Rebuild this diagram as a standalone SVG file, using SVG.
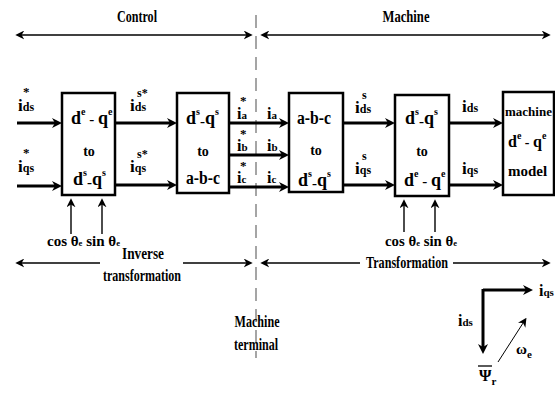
<svg xmlns="http://www.w3.org/2000/svg" width="555" height="395" viewBox="0 0 555 395">
<style>
.t{font-family:'Liberation Serif','Times New Roman',serif;font-weight:bold;fill:#000}
.box{fill:#fff;stroke:#000;stroke-width:2.5}
.thick{stroke:#000;stroke-width:3;fill:none}
.thin{stroke:#000;stroke-width:1.4;fill:none}
.dash{stroke:#888;stroke-width:1.5;stroke-dasharray:13,8;fill:none}
</style>
<defs>
<marker id="ah" viewBox="0 0 10 10" refX="6" refY="5" markerWidth="10" markerHeight="10" markerUnits="userSpaceOnUse" orient="auto-start-reverse">
<path d="M0,0 L10,5 L0,10 L3,5 z" fill="#000"/>
</marker>
<marker id="ah2" viewBox="0 0 10 10" refX="7" refY="5" markerWidth="9" markerHeight="9" markerUnits="userSpaceOnUse" orient="auto-start-reverse">
<path d="M0,0 L10,5 L0,10 L3,5 z" fill="#000"/>
</marker>
</defs>

<line class="dash" x1="256" y1="15" x2="256" y2="358"/>

<g id="connectors">
<line class="thin" x1="18" y1="35" x2="250" y2="35" marker-start="url(#ah2)" marker-end="url(#ah2)"/>
<line class="thin" x1="263" y1="35" x2="548" y2="35" marker-start="url(#ah2)" marker-end="url(#ah2)"/>
<line class="thin" x1="18" y1="263" x2="100" y2="263" marker-start="url(#ah2)"/>
<line class="thin" x1="183" y1="263" x2="250" y2="263" marker-end="url(#ah2)"/>
<line class="thin" x1="263" y1="263" x2="360" y2="263" marker-start="url(#ah2)"/>
<line class="thin" x1="453" y1="263" x2="548" y2="263" marker-end="url(#ah2)"/>

<line class="thick" x1="17" y1="123" x2="58" y2="123" marker-end="url(#ah)"/>
<line class="thick" x1="17" y1="186" x2="58" y2="186" marker-end="url(#ah)"/>
<line class="thick" x1="115" y1="123" x2="173" y2="123" marker-end="url(#ah)"/>
<line class="thick" x1="115" y1="185" x2="173" y2="185" marker-end="url(#ah)"/>
<line class="thick" x1="229" y1="123" x2="285" y2="123" marker-end="url(#ah)"/>
<line class="thick" x1="229" y1="155" x2="285" y2="155" marker-end="url(#ah)"/>
<line class="thick" x1="229" y1="187" x2="285" y2="187" marker-end="url(#ah)"/>
<line class="thick" x1="343" y1="123" x2="391" y2="123" marker-end="url(#ah)"/>
<line class="thick" x1="343" y1="185" x2="391" y2="185" marker-end="url(#ah)"/>
<line class="thick" x1="449" y1="123" x2="499" y2="123" marker-end="url(#ah)"/>
<line class="thick" x1="449" y1="185" x2="499" y2="185" marker-end="url(#ah)"/>

<line class="thin" x1="71" y1="234" x2="71" y2="201" marker-end="url(#ah2)"/>
<line class="thin" x1="102" y1="234" x2="102" y2="201" marker-end="url(#ah2)"/>
<line class="thin" x1="404" y1="232" x2="404" y2="202" marker-end="url(#ah2)"/>
<line class="thin" x1="435" y1="232" x2="435" y2="202" marker-end="url(#ah2)"/>

<line class="thick" x1="483" y1="290" x2="529" y2="290" stroke-width="2.5" marker-end="url(#ah)"/>
<line class="thick" x1="483" y1="289" x2="483" y2="350" stroke-width="2.5" marker-end="url(#ah)"/>
<line stroke="#000" stroke-width="1" x1="498" y1="362" x2="525" y2="320" marker-end="url(#ah2)"/>
</g>

<g id="top-labels">
<text class="t" x="137" y="22" font-size="16" text-anchor="middle" textLength="40" lengthAdjust="spacingAndGlyphs">Control</text>
<text class="t" x="406" y="22" font-size="16" text-anchor="middle" textLength="47" lengthAdjust="spacingAndGlyphs">Machine</text>
</g>

<g id="box1">
<rect class="box" x="62" y="93" width="53" height="102"/>
<text class="t" x="71" y="124" font-size="18">d<tspan font-size="10" dy="-9">e</tspan><tspan dy="9" font-size="15"> - </tspan>q<tspan font-size="10" dy="-9">e</tspan></text>
<text class="t" x="89" y="156" font-size="14" text-anchor="middle">to</text>
<text class="t" x="73" y="185" font-size="18">d<tspan font-size="10" dy="-9">s</tspan><tspan dy="11" font-size="15">-</tspan><tspan dy="-2">q</tspan><tspan font-size="10" dy="-9">s</tspan></text>
</g>

<g id="box2">
<rect class="box" x="177" y="93" width="52" height="100"/>
<text class="t" x="186" y="124" font-size="18">d<tspan font-size="10" dy="-9">s</tspan><tspan dy="11" font-size="15">-</tspan><tspan dy="-2">q</tspan><tspan font-size="10" dy="-9">s</tspan></text>
<text class="t" x="203" y="156" font-size="14" text-anchor="middle">to</text>
<text class="t" x="203" y="184" font-size="18" text-anchor="middle" textLength="34" lengthAdjust="spacingAndGlyphs">a-b-c</text>
</g>

<g id="box3">
<rect class="box" x="289" y="93" width="54" height="99"/>
<text class="t" x="314" y="124" font-size="18" text-anchor="middle" textLength="34" lengthAdjust="spacingAndGlyphs">a-b-c</text>
<text class="t" x="316" y="155" font-size="14" text-anchor="middle">to</text>
<text class="t" x="298" y="186" font-size="18">d<tspan font-size="10" dy="-9">s</tspan><tspan dy="11" font-size="15">-</tspan><tspan dy="-2">q</tspan><tspan font-size="10" dy="-9">s</tspan></text>
</g>

<g id="box4">
<rect class="box" x="395" y="95" width="54" height="101"/>
<text class="t" x="405" y="124" font-size="18">d<tspan font-size="10" dy="-9">s</tspan><tspan dy="11" font-size="15">-</tspan><tspan dy="-2">q</tspan><tspan font-size="10" dy="-9">s</tspan></text>
<text class="t" x="422" y="156" font-size="14" text-anchor="middle">to</text>
<text class="t" x="404" y="186" font-size="18">d<tspan font-size="10" dy="-9">e</tspan><tspan dy="9" font-size="15"> - </tspan>q<tspan font-size="10" dy="-9">e</tspan></text>
</g>

<g id="box5">
<rect class="box" x="503" y="92" width="51" height="103"/>
<text class="t" x="528.5" y="116" font-size="13" text-anchor="middle">machine</text>
<text class="t" x="508" y="147" font-size="16">d<tspan font-size="10" dy="-8">e</tspan><tspan dy="8" font-size="14"> - </tspan>q<tspan font-size="10" dy="-8">e</tspan></text>
<text class="t" x="508" y="176" font-size="15">model</text>
</g>

<g id="signal-labels">
<text class="t" x="23" y="96" font-size="13">*</text>
<text class="t" x="18" y="111" font-size="17">i<tspan font-size="12">ds</tspan></text>
<text class="t" x="23" y="157" font-size="13">*</text>
<text class="t" x="18" y="172" font-size="17">i<tspan font-size="12">qs</tspan></text>

<text class="t" x="137" y="97" font-size="12">s*</text>
<text class="t" x="130" y="111" font-size="17">i<tspan font-size="12">ds</tspan></text>
<text class="t" x="137" y="158" font-size="12">s*</text>
<text class="t" x="130" y="172" font-size="17">i<tspan font-size="12">qs</tspan></text>

<text class="t" x="240" y="105" font-size="13">*</text>
<text class="t" x="237" y="119" font-size="16">i<tspan font-size="11">a</tspan></text>
<text class="t" x="240" y="138" font-size="13">*</text>
<text class="t" x="237" y="151" font-size="16">i<tspan font-size="11">b</tspan></text>
<text class="t" x="240" y="170" font-size="13">*</text>
<text class="t" x="237" y="183" font-size="16">i<tspan font-size="11">c</tspan></text>
<text class="t" x="267" y="119" font-size="16">i<tspan font-size="11">a</tspan></text>
<text class="t" x="267" y="151" font-size="16">i<tspan font-size="11">b</tspan></text>
<text class="t" x="267" y="183" font-size="16">i<tspan font-size="11">c</tspan></text>

<text class="t" x="362" y="99" font-size="12">s</text>
<text class="t" x="355" y="113" font-size="17">i<tspan font-size="12">ds</tspan></text>
<text class="t" x="362" y="160" font-size="12">s</text>
<text class="t" x="355" y="174" font-size="17">i<tspan font-size="12">qs</tspan></text>

<text class="t" x="462" y="112" font-size="17">i<tspan font-size="12">ds</tspan></text>
<text class="t" x="462" y="174" font-size="17">i<tspan font-size="12">qs</tspan></text>
</g>

<g id="angle-labels">
<text class="t" x="47" y="246" font-size="14" textLength="73" lengthAdjust="spacingAndGlyphs">cos θ<tspan font-size="8">e</tspan> sin θ<tspan font-size="8">e</tspan></text>
<text class="t" x="385" y="246" font-size="14" textLength="72" lengthAdjust="spacingAndGlyphs">cos θ<tspan font-size="8">e</tspan> sin θ<tspan font-size="8">e</tspan></text>
</g>

<g id="bottom-labels">
<text class="t" x="143" y="259" font-size="16" text-anchor="middle" textLength="42" lengthAdjust="spacingAndGlyphs">Inverse</text>
<text class="t" x="142" y="281" font-size="16" text-anchor="middle" textLength="78" lengthAdjust="spacingAndGlyphs">transformation</text>
<text class="t" x="407" y="268" font-size="16" text-anchor="middle" textLength="82" lengthAdjust="spacingAndGlyphs">Transformation</text>
<text class="t" x="257" y="327" font-size="16" text-anchor="middle" textLength="45" lengthAdjust="spacingAndGlyphs">Machine</text>
<text class="t" x="256" y="350" font-size="16" text-anchor="middle" textLength="44" lengthAdjust="spacingAndGlyphs">terminal</text>
</g>

<g id="vector-diagram">
<text class="t" x="539" y="296" font-size="16">i<tspan font-size="11">qs</tspan></text>
<text class="t" x="458" y="326" font-size="16">i<tspan font-size="11">ds</tspan></text>
<text class="t" x="516" y="354" font-size="15">ω<tspan font-size="11" dy="4">e</tspan></text>
<line stroke="#000" stroke-width="1.3" x1="478" y1="366" x2="492" y2="366"/>
<text class="t" x="479" y="381" font-size="16">Ψ<tspan font-size="11" dy="4">r</tspan></text>
</g>
</svg>
